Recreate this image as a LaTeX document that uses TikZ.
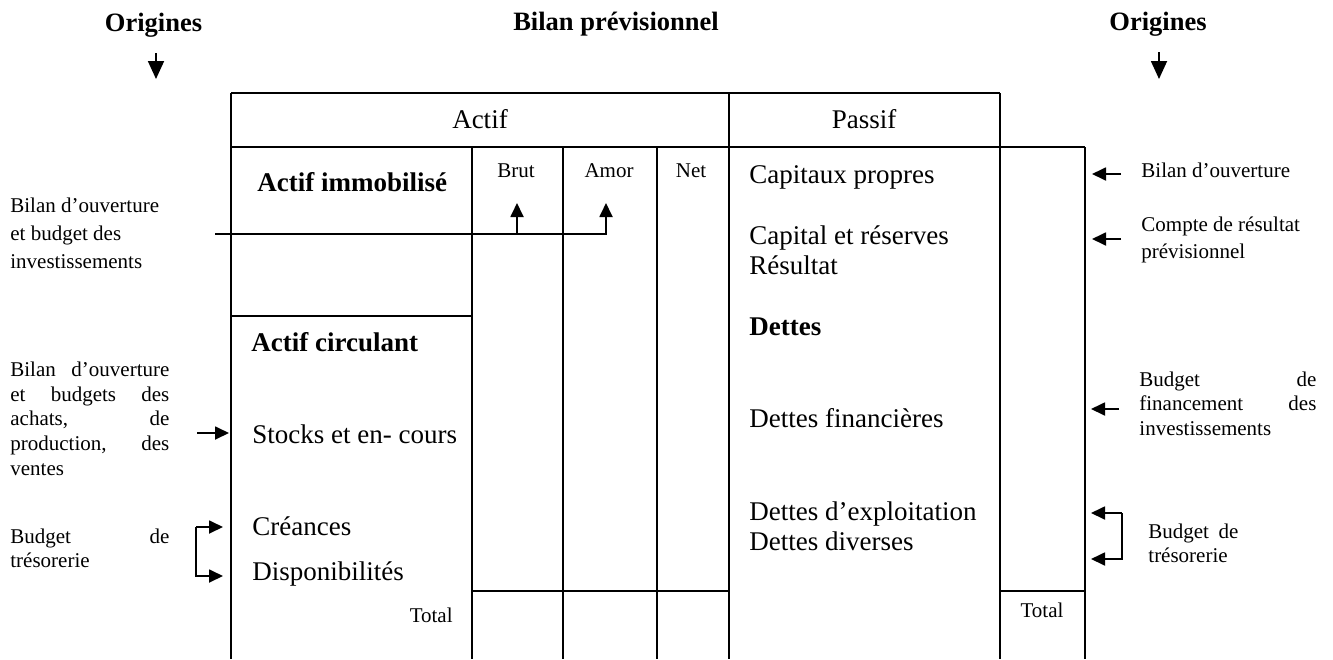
\documentclass[tikz,border=0pt]{standalone}
\usepackage{fontspec}
\setmainfont{Liberation Serif}
\usetikzlibrary{arrows.meta}
\begin{document}
\begin{tikzpicture}[x=0.5pt,y=-0.5pt,
  grid/.style={line width=1pt},
  thingrid/.style={line width=0.8pt},
  arr/.style={line width=0.9pt,-{Triangle[length=7pt,width=6.5pt]}},
  bigarr/.style={line width=0.9pt,-{Triangle[length=9pt,width=8pt]}},
  big/.style={font=\fontsize{13.5}{15}\selectfont, inner sep=0pt},
  small/.style={font=\fontsize{10.5}{12.3}\selectfont, inner sep=0pt},
  bighead/.style={font=\bfseries\fontsize{13.25}{15}\selectfont, inner sep=0pt},
]
\useasboundingbox (0,0) rectangle (1333,659);

% ---------- titles ----------
\node[bighead, anchor=base] (origL) at (153.5,31) {Origines};
\node[bighead, anchor=base] (titre) at (616,30) {Bilan prévisionnel};
\node[bighead, anchor=base] (origR) at (1158,30) {Origines};
\coordinate (oL1) at (156,53);  \coordinate (oL2) at (156,79);
\coordinate (oR1) at (1159,52); \coordinate (oR2) at (1159,79);
\draw[bigarr] (oL1) -- (oL2);
\draw[bigarr] (oR1) -- (oR2);

% ---------- table frame ----------
\draw[thingrid] (231,93) -- (1000,93);
\draw[grid] (231,147) -- (1000,147);
\draw[thingrid] (1000,147) -- (1085,147);
\draw[grid] (231,93) -- (231,659);
\draw[grid] (729,93) -- (729,659);
\draw[grid] (1000,93) -- (1000,659);
\draw[grid] (472,147) -- (472,659);
\draw[grid] (563,147) -- (563,659);
\draw[grid] (657,147) -- (657,659);
\draw[grid] (1085,147) -- (1085,659);
\draw[grid] (231,316) -- (472,316);
\draw[thingrid] (472,591) -- (729,591);
\draw[thingrid] (1000,591) -- (1085,591);

% ---------- table texts (multi-line nodes sit on their last baseline) ----------
\node[big, anchor=base] (actif) at (480,128) {Actif};
\node[big, anchor=base] (passif) at (864,128) {Passif};
\node[big, font=\bfseries\fontsize{13.5}{15}\selectfont, anchor=base west] (immo) at (257,191) {Actif immobilisé};
\node[small, anchor=base] (brut) at (516,177) {Brut};
\node[small, anchor=base] (amor) at (609,177) {Amor};
\node[small, anchor=base] (net) at (691,177) {Net};
\node[big, font=\bfseries\fontsize{13.5}{15}\selectfont, anchor=base west] (circ) at (251,351) {Actif circulant};
\node[big, anchor=base west] (stocks) at (252,443) {Stocks et en- cours};
\node[big, anchor=base west] (creances) at (252,535) {Créances};
\node[big, anchor=base west] (dispo) at (252,580) {Disponibilités};
\node[small, anchor=base east] (totalA) at (453,622) {Total};

\node[big, anchor=base west] (cp) at (749,183) {Capitaux propres};
\node[big, anchor=base west, align=left, font=\fontsize{13.5}{15}\selectfont] (capres) at (749,274) {Capital et réserves\\Résultat};
\node[big, font=\bfseries\fontsize{13.5}{15}\selectfont, anchor=base west] (dettes) at (749,335) {Dettes};
\node[big, anchor=base west] (dfin) at (749,427) {Dettes financières};
\node[big, anchor=base west, align=left, font=\fontsize{13.5}{15}\selectfont] (dexp) at (749,550) {Dettes d’exploitation\\Dettes diverses};
\node[small, anchor=base] (totalP) at (1042,617) {Total};

% ---------- origins, left side ----------
\node[small, anchor=base west, align=left, font=\fontsize{10.5}{14}\selectfont] (invL) at (10,268)
  {Bilan d’ouverture\\et budget des\\investissements};
\node[small, anchor=base west, align=left, font=\fontsize{10.5}{12.3}\selectfont] (stockL) at (10,475)
  {\makebox[79.5pt][s]{Bilan d’ouverture}\\
   \makebox[79.5pt][s]{et budgets des}\\
   \makebox[79.5pt][s]{achats, de}\\
   \makebox[79.5pt][s]{production, des}\\
   ventes};
\node[small, anchor=base west, align=left, font=\fontsize{10.5}{12}\selectfont] (tresoL) at (10,567)
  {\makebox[79.5pt][s]{Budget de}\\trésorerie};

% ---------- origins, right side ----------
\node[small, anchor=base west] (ouvR) at (1141,177) {Bilan d’ouverture};
\node[small, anchor=base west, align=left, font=\fontsize{10.5}{13.5}\selectfont] (resR) at (1141,258)
  {Compte de résultat\\prévisionnel};
\node[small, anchor=base west, align=left, font=\fontsize{10.5}{12.25}\selectfont] (finR) at (1139,435)
  {\makebox[88.5pt][s]{Budget de}\\
   \makebox[88.5pt][s]{financement des}\\
   investissements};
\node[small, anchor=base west, align=left, font=\fontsize{10.5}{12}\selectfont] (tresoR) at (1148,562)
  {\makebox[45pt][s]{Budget de}\\trésorerie};

% ---------- connectors, left ----------
\coordinate (inv0) at (215,234);
\coordinate (invB) at (517,234);
\coordinate (tipB) at (517,203);
\coordinate (tipA) at (606,203);
\draw[arr] (inv0) -| (tipA);
\draw[arr] (invB) -- (tipB);

\coordinate (st0) at (197,433);
\coordinate (st1) at (229,433);
\draw[arr] (st0) -- (st1);

\coordinate (trL) at (196,527);
\coordinate (trL1) at (223,527);
\coordinate (trL2) at (223,576);
\draw[arr] (trL) -- (trL1);
\draw[arr] (trL) |- (trL2);

% ---------- connectors, right ----------
\coordinate (r1a) at (1121,174); \coordinate (r1b) at (1092,174);
\coordinate (r2a) at (1121,239); \coordinate (r2b) at (1092,239);
\coordinate (r3a) at (1119,409); \coordinate (r3b) at (1091,409);
\draw[arr] (r1a) -- (r1b);
\draw[arr] (r2a) -- (r2b);
\draw[arr] (r3a) -- (r3b);

\coordinate (trR) at (1122,513);
\coordinate (trR1) at (1091,513);
\coordinate (trR2) at (1091,559);
\draw[arr] (trR) -- (trR1);
\draw[arr] (trR) |- (trR2);
\end{tikzpicture}
\end{document}
